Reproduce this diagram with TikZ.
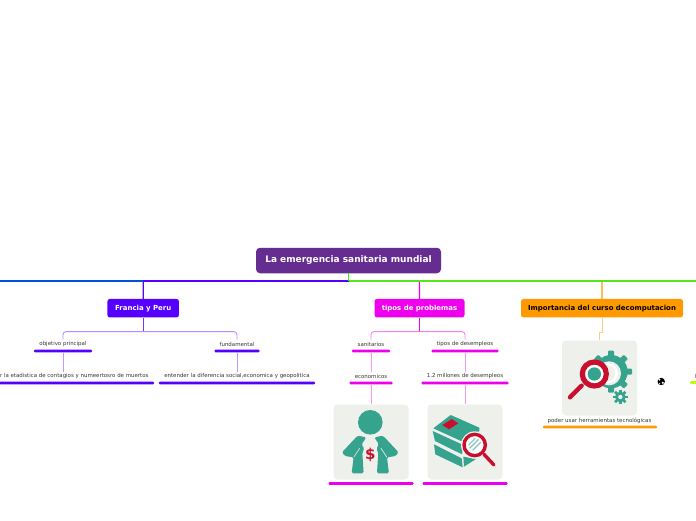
\documentclass[tikz,border=0pt]{standalone}
\usepackage{fontspec}
\setmainfont{DejaVu Sans}
\definecolor{rootc}{HTML}{662D91}
\definecolor{franciac}{HTML}{5500FF}
\definecolor{tiposc}{HTML}{EE00EE}
\definecolor{impc}{HTML}{FF9900}
\definecolor{teal}{HTML}{36A38F}
\definecolor{redc}{HTML}{C8102E}
\definecolor{paper}{HTML}{EEF0EC}
\definecolor{trunkc}{HTML}{55E619}
\definecolor{limec}{HTML}{BBFF00}
\definecolor{bluec}{HTML}{0050D8}
\tikzset{
  branch/.style={rounded corners=2.5pt,inner sep=0pt,minimum height=18.5pt,font=\bfseries\fontsize{6.95}{8}\selectfont},
  leaf/.style={inner sep=0pt,minimum height=9pt,text=black!80,font=\fontsize{5.45}{6}\selectfont},
  bar/.style={fill=#1,rounded corners=1pt,inner sep=0pt,minimum height=2.8pt},
  picbox/.style={fill=paper,rounded corners=4pt,inner sep=0pt,minimum width=75pt,minimum height=75pt}
}
\begin{document}
\begin{tikzpicture}[x=1pt,y=-1pt]
\useasboundingbox (0,0) rectangle (696,520);
\clip (0,0) rectangle (696,520);
\coordinate (trunk) at (348.5,281);
\coordinate (trunkleft) at (0,281);
\coordinate (trunkright) at (696,281);
\coordinate (turn) at (143,281);
\node (root) [fill=rootc,text=white,rounded corners=4pt,inner sep=0pt,minimum width=185pt,minimum height=25.5pt,font=\bfseries\fontsize{9}{10}\selectfont] at (348.5,260.5) {\raisebox{-.6pt}{La emergencia sanitaria mundial}};
\node (francia) [branch,fill=franciac,text=white,minimum width=71.5pt] at (143.2,308.2) {\raisebox{-.6pt}{Francia y Peru}};
\node (tipos) [branch,fill=tiposc,text=white,minimum width=90pt] at (419.5,308.2) {\raisebox{-.6pt}{tipos de problemas}};
\node (importancia) [branch,fill=impc,text=black,minimum width=162pt] at (602,308.2) {\raisebox{-.6pt}{Importancia del curso decomputacion}};
% francia y peru
\node (objetivo) [leaf] at (63,344.4) {objetivo principal};
\node (objetivobar) [bar=franciac,minimum width=58pt] at (63,351) {};
\node (fundamental) [leaf] at (237,344.4) {fundamental};
\node (fundamentalbar) [bar=franciac,minimum width=45pt] at (237,351) {};
\node (etadistica) [leaf] at (64.5,376.4) {conocer la etadistica de contagios y numeertosro de muertos};
\node (etadisticabar) [bar=franciac,minimum width=182pt] at (63,383) {};
\node (entender) [leaf] at (237,376.4) {entender la diferencia social,economica y geopolitica};
\node (entenderbar) [bar=franciac,minimum width=156pt] at (237,383) {};
% tipos de problemas
\node (sanitarios) [leaf] at (371,344.4) {sanitarios};
\node (sanitariosbar) [bar=tiposc,minimum width=38pt] at (371,351) {};
\node (desempleos) [leaf] at (465,344.4) {tipos de desempleos};
\node (desempleosbar) [bar=tiposc,minimum width=67pt] at (465,351) {};
\node (economicos) [leaf] at (371,376.4) {economicos};
\node (economicosbar) [bar=tiposc,minimum width=43pt] at (371,383) {};
\node (millones) [leaf] at (465,376.4) {1.2 millones de desempleos};
\node (millonesbar) [bar=tiposc,minimum width=87pt] at (465,383) {};
\node (personbox) [picbox] at (371,442) {};
\node (personbar) [bar=tiposc,minimum width=85pt] at (371,483.5) {};
\node (bookbox) [picbox] at (465,442) {};
\node (bookbar) [bar=tiposc,minimum width=85pt] at (465,483.5) {};
% importancia
\node (gearbox) [picbox] at (599.5,378) {};
\node (poder) [leaf] at (599.5,420.4) {poder usar herramientas tecnológicas};
\node (poderbar) [bar=impc,minimum width=114pt] at (600,427) {};
\node (cutleaf) [leaf,anchor=west] at (694.5,376.4) {l};
\node (cutbar) [bar=limec,minimum width=14pt] at (697,382.5) {};
% connectors
\draw [line width=1.1pt,bluec] (trunkleft) -- (turn);
\draw [line width=1.1pt,franciac] (turn) -- (trunk);
\draw [line width=1.1pt,franciac,rounded corners=2pt] (francia.north) |- ++(3,-18);
\draw [line width=1.1pt,tiposc,rounded corners=2pt] (tipos.north) |- ++(-3,-18);
\draw [line width=1.1pt,impc,rounded corners=2pt] (importancia.north) |- ++(-3,-18);
\draw [line width=1.1pt,trunkc] (trunk) -- (trunkright);
\draw [line width=1.8pt,green!85!yellow] (root.south) -- (trunk);
\draw [franciac!80,line width=1pt] (francia.south) -- ++(0,14) coordinate (franciajoin);
\draw [franciac!45,line width=.9pt,rounded corners=3pt] (objetivo.north) |- (franciajoin) -| (fundamental.north);
\draw [franciac!40,line width=.8pt] (objetivobar.south) -- (objetivobar.south |- etadistica.north);
\draw [franciac!40,line width=.8pt] (fundamentalbar.south) -- (entender.north);
\draw [tiposc,line width=1pt] (tipos.south) -- ++(0,14) coordinate (tiposjoin);
\draw [tiposc!50,line width=.9pt,rounded corners=3pt] (sanitarios.north) |- (tiposjoin) -| (desempleos.north);
\draw [tiposc!40,line width=.8pt] (sanitariosbar.south) -- (economicos.north);
\draw [tiposc!40,line width=.8pt] (desempleosbar.south) -- (millones.north);
\draw [tiposc!40,line width=.8pt] (economicosbar.south) -- (personbox.north);
\draw [tiposc!40,line width=.8pt] (millonesbar.south) -- (bookbox.north);
\draw [impc!50,line width=.9pt] (importancia.south) -- ++(0,15) -| (gearbox.north);
% person
\fill [teal] (370.3,422.3) circle [radius=12.3];
\foreach \sx in {1,-1} {
\begin{scope}[shift={(370.3,395)},xscale=\sx,scale=1/3]
\fill [teal,rounded corners=1.5pt] (-38,122) -- (-12,127) -- (-26,148) -- (-18,162) -- (-24,172) -- (-20,235) -- (-56,235) -- (-50,187) -- (-76,183) -- (-85,172) -- cycle;
\draw [paper,line width=.6pt] (-50,187) -- (-32,160);
\end{scope}
}
\node (dollar) [text=redc,inner sep=0pt,font=\bfseries\fontsize{15}{15}\selectfont] at (370.3,455) {\$};
% book
\begin{scope}[shift={(320,395)},scale=1/3]
\fill [teal] (340,100) -- (392,60) -- (478,98) -- (478,108) -- (432,142) -- cycle;
\fill [teal] (338,108) -- (430,150) -- (426,178) -- (345,138) -- cycle;
\fill [teal] (342,148) -- (425,190) -- (428,217) -- (346,178) -- cycle;
\fill [teal] (432,215) -- (430,185) -- (468,192) -- cycle;
\fill [redc] (367,90) -- (395,72) -- (415,85) -- (387,103) -- cycle;
\fill [paper] (464,150) circle [radius=41];
\draw [redc,line width=3.4pt,line cap=round] (492,178) -- (522,210);
\fill [white] (464,150) circle [radius=27];
\draw [teal!60,line width=1.1pt] (446,150) -- (466,130) (449,160) -- (476,133) (458,166) -- (482,142);
\draw [redc,line width=3.4pt] (464,150) circle [radius=32];
\end{scope}
% gear
\begin{scope}[shift={(535,335)},scale=1/3]
\foreach \a in {0,45,...,315} {
\fill [teal,rounded corners=1pt,rotate around={\a:(228,110)}] (219,47) rectangle (237,70);
}
\fill [teal] (228,110) circle [radius=50];
\fill [paper] (222,115) circle [radius=36];
\fill [white] (219,115) circle [radius=30];
\fill [paper] (215,115) circle [radius=25];
\foreach \a in {0,45,...,315} {
\fill [teal,rotate around={\a:(256,186)}] (252,164) rectangle (260,175);
}
\fill [teal] (256,186) circle [radius=16];
\fill [paper] (256,186) circle [radius=6.5];
\draw [redc,line width=4.4pt,line cap=round] (140,152) -- (105,187);
\fill [white] (178,117) circle [radius=29];
\fill [teal] (178,117) circle [radius=20];
\draw [redc,line width=5.2pt] (178,117) circle [radius=36];
\end{scope}
% globe
\fill [black] (661.2,381.5) circle [radius=3.7];
\fill [white] (659.4,379.6) circle [radius=1.1] (662.8,382.8) circle [radius=1.2] (659.6,383.6) circle [radius=.7];
\end{tikzpicture}
\end{document}
